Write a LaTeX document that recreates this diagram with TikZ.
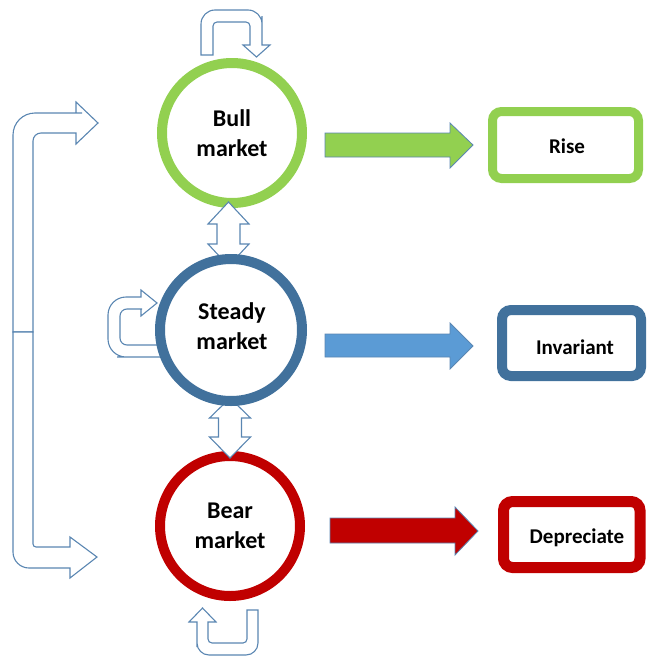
\documentclass[tikz,border=0pt]{standalone}
\usepackage{fontspec}
\setmainfont{Carlito}
\definecolor{cgreen}{HTML}{92D050}
\definecolor{cblue}{HTML}{41719C}
\definecolor{cbluefill}{HTML}{5B9BD5}
\definecolor{cred}{HTML}{C00000}
\definecolor{outl}{HTML}{5A86B2}
\begin{document}
\begin{tikzpicture}[x=1pt,y=-1pt,
  hollow/.style={draw=outl, fill=white, line width=1.1pt, line join=miter},
  block/.style={draw=outl, line width=0.8pt, line join=miter},
  market/.style={circle, fill=white, line width=10pt, minimum size=140pt, inner sep=0pt, align=center, font=\bfseries\fontsize{24}{30}\selectfont},
  result/.style={rectangle, rounded corners=9pt, fill=white, inner sep=0pt, font=\bfseries\fontsize{21}{24}\selectfont}]
\useasboundingbox (0,0) rectangle (647,656);

% loop arrows
\draw[hollow] (201,55) -- (201,35) [rounded corners=14] -- (201,10) -- (262,10) -- (262,30) [sharp corners] -- (262,45) -- (270,45) -- (256.5,57) -- (243,45) -- (250,45) -- (250,35) [rounded corners=4] -- (250,22) -- (213,22) -- (213,35) [sharp corners] -- (213,55) -- cycle;
\draw[hollow] (208,622) -- (208,630) [rounded corners=4] -- (208,643) -- (247,643) -- (247,630) [sharp corners] -- (247,610) -- (258,610) -- (258,630) [rounded corners=12] -- (258,655) -- (197,655) -- (197,635) [sharp corners] -- (197,622) -- (189,622) -- (202.5,608) -- (216,622) -- cycle;
\draw[hollow] (141,297) -- (130,297) [rounded corners=18] -- (108,297) -- (108,357) -- (135,357) [sharp corners] -- (162,357) -- (162,345) -- (140,345) [rounded corners=7] -- (120,345) -- (120,309) -- (135,309) [sharp corners] -- (141,309) -- (141,316) -- (157,303) -- (141,290) -- cycle;

% big left arrows
\draw[hollow] (13,332) -- (13,200) [rounded corners=22] -- (13,113) -- (60,113) [sharp corners] -- (76,113) -- (76,102) -- (98,123) -- (76,144) -- (76,133) -- (60,133) [rounded corners=8] -- (33,133) -- (33,200) [sharp corners] -- (33,332) -- cycle;
\draw[hollow] (13,332) -- (13,450) [rounded corners=16] -- (13,568) -- (50,568) [sharp corners] -- (70,568) -- (70,578) -- (97,557) -- (70,537) -- (70,547) -- (50,547) [rounded corners=3] -- (33,547) -- (33,450) [sharp corners] -- (33,332) -- cycle;

% circles and double arrows
\node[market, draw=cgreen] (bull) at (232,133) {Bull\\market};
\node[market, draw=cred] (bear) at (230,526) {Bear\\market};
\draw[hollow] (228.5,202) -- (249,224) -- (240,224) -- (240,244) -- (249,244) -- (228.5,266) -- (208,244) -- (217,244) -- (217,224) -- (208,224) -- cycle;
\draw[hollow] (230,398) -- (250.5,418) -- (241.5,418) -- (241.5,437) -- (250.5,437) -- (230,458) -- (209.5,437) -- (218.5,437) -- (218.5,418) -- (209.5,418) -- cycle;
\node[market, draw=cblue, minimum size=142pt] (steady) at (231,330) {};
\node[font=\bfseries\fontsize{24}{30}\selectfont, align=center, inner sep=0pt] (steadytext) at (232,326) {Steady\\market};

% result boxes
\node[result, draw=cgreen, line width=9pt, minimum width=146pt, minimum height=67pt] (rise) at (565.5,145) {};
\node[font=\bfseries\fontsize{21}{24}\selectfont, inner sep=0pt] (risetext) at (567,146) {Rise};
\node[result, draw=cblue, line width=10pt, minimum width=139pt, minimum height=66pt] (inv) at (571.5,343) {};
\node[font=\bfseries\fontsize{21}{24}\selectfont, inner sep=0pt] (invtext) at (575,347) {Invariant};
\node[result, draw=cred, line width=11pt, minimum width=136.5pt, minimum height=66pt] (dep) at (571.75,534.5) {};
\node[font=\bfseries\fontsize{21}{24}\selectfont, inner sep=0pt] (deptext) at (577,538) {Depreciate};

% block arrows
\draw[block, fill=cgreen] (325,133) -- (450,133) -- (450,123) -- (473,145) -- (450,168) -- (450,157) -- (325,157) -- cycle;
\draw[block, fill=cbluefill] (325,334) -- (450,334) -- (450,323) -- (473,346) -- (450,369) -- (450,357) -- (325,357) -- cycle;
\draw[block, fill=cred] (330,518) -- (455,518) -- (455,507) -- (478,531) -- (455,555) -- (455,543) -- (330,543) -- cycle;
\end{tikzpicture}
\end{document}
